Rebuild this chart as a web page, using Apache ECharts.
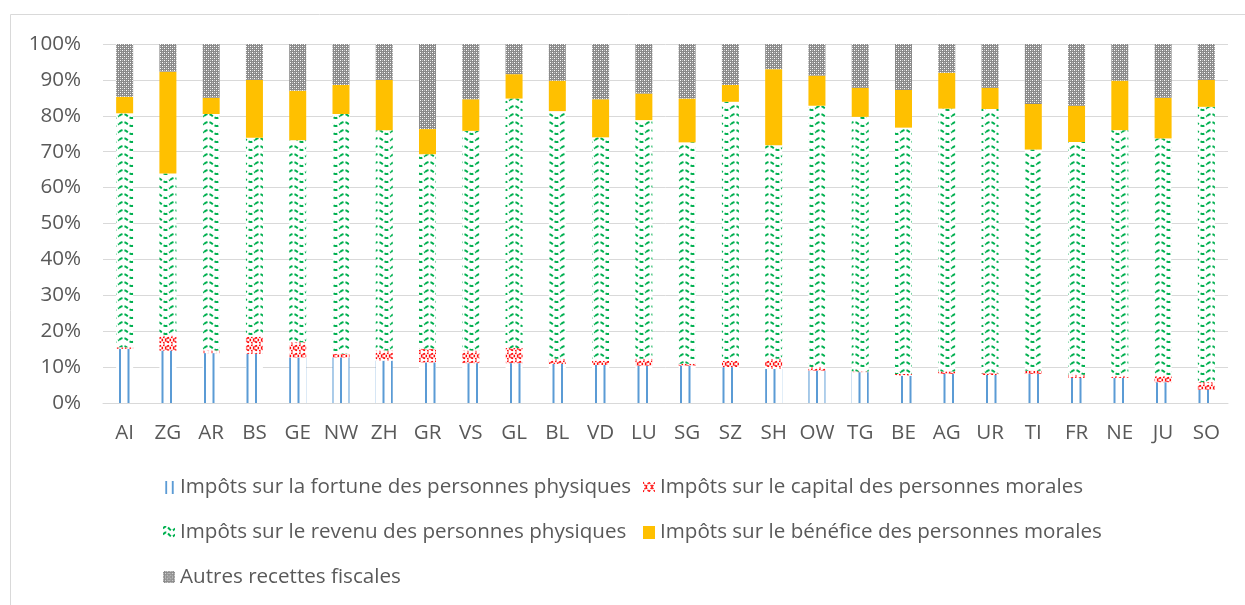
<!DOCTYPE html>
<html>
<head>
<meta charset="utf-8">
<script src="https://cdn.jsdelivr.net/npm/echarts@6/dist/echarts.min.js"></script>
<style>
  html, body { margin: 0; padding: 0; background: #fff; }
  #chart { width: 1245px; height: 605px; }
</style>
</head>
<body>
<div id="chart"></div>
<script>
// cantons
const categories = ['AI', 'ZG', 'AR', 'BS', 'GE', 'NW', 'ZH', 'GR', 'VS', 'GL', 'BL', 'VD', 'LU',
    'SG', 'SZ', 'SH', 'OW', 'TG', 'BE', 'AG', 'UR', 'TI', 'FR', 'NE', 'JU', 'SO'];

// parts en %
const fortune = [15.1, 14.6, 13.9, 13.7, 12.7, 12.7, 11.8, 11.3, 11.1, 11.1, 10.9, 10.6, 10.4,
    10.4, 10.0, 9.5, 9.0, 8.6, 7.6, 8.1, 7.8, 8.1, 7.0, 7.0, 5.8, 3.7];
const capital = [0.4, 4.2, 0.7, 4.8, 4.2, 1.0, 2.8, 3.8, 3.5, 4.2, 1.4, 1.2, 1.9,
    0.5, 1.8, 2.8, 1.0, 0.2, 0.5, 0.7, 0.5, 0.9, 0.9, 0.6, 1.8, 2.1];
const revenu = [65.2, 45.1, 65.9, 55.4, 56.3, 66.8, 61.4, 54.2, 61.2, 69.5, 69.0, 62.2, 66.5,
    61.7, 72.1, 59.5, 72.8, 70.9, 68.6, 73.2, 73.6, 61.6, 64.8, 68.4, 66.1, 76.7];
const benefice = [4.6, 28.4, 4.5, 16.1, 13.8, 8.1, 14.0, 7.0, 8.8, 6.8, 8.5, 10.6, 7.4,
    12.2, 4.7, 21.2, 8.4, 8.1, 10.5, 10.0, 5.9, 12.7, 10.1, 13.8, 11.3, 7.5];
const autres = [14.7, 7.7, 15.0, 10.0, 13.0, 11.4, 10.0, 23.7, 15.4, 8.4, 10.2, 15.4, 13.8,
    15.2, 11.4, 7.0, 8.8, 12.2, 12.8, 8.0, 12.2, 16.7, 17.2, 10.2, 15.0, 10.0];

const names = [
    'Impôts sur la fortune des personnes physiques',
    'Impôts sur le capital des personnes morales',
    'Impôts sur le revenu des personnes physiques',
    'Impôts sur le bénéfice des personnes morales',
    'Autres recettes fiscales'
];

const textColor = '#595959';
const font = '"Open Sans", "Liberation Sans", sans-serif';
const fontSize = 20.6;

// petites tuiles de motif (comme les trames Excel)
function tile(w, h, draw) {
    const c = document.createElement('canvas');
    c.width = w;
    c.height = h;
    const ctx = c.getContext('2d');
    ctx.fillStyle = '#fff';
    ctx.fillRect(0, 0, w, h);
    draw(ctx, w, h);
    return c;
}

function drawLines(ctx, w, h) {
    ctx.fillStyle = '#5B9BD5';
    ctx.fillRect(0, 0, 2, h);
    ctx.fillRect(8.5, 0, 2, h);
}

function drawZigzag(ctx, w, h) {
    ctx.strokeStyle = '#FF0000';
    ctx.lineWidth = 1.3;
    ctx.setLineDash([2, 1]);
    ctx.beginPath();
    ctx.moveTo(0, 1); ctx.lineTo(w / 2, h - 1); ctx.lineTo(w, 1);
    ctx.moveTo(0, h - 1); ctx.lineTo(w / 2, 1); ctx.lineTo(w, h - 1);
    ctx.stroke();
}

function drawWave(ctx, w, h) {
    ctx.strokeStyle = '#00B050';
    ctx.lineWidth = 2;
    ctx.setLineDash([4, 2]);
    ctx.beginPath();
    for (let x = 0; x <= w; x += 0.5) {
        const y = h / 2 - 2 * Math.sin(2 * Math.PI * x / w);
        if (x === 0) ctx.moveTo(x, y); else ctx.lineTo(x, y);
    }
    ctx.stroke();
}

function drawChecker(ctx, w, h) {
    ctx.fillStyle = '#8a8a8a';
    ctx.fillRect(0, 0, w, h);
    ctx.fillStyle = '#ffffff';
    ctx.fillRect(0, 0, 1, 1);
    ctx.fillRect(2, 2, 1, 1);
    ctx.fillStyle = '#c4c4c4';
    ctx.fillRect(2, 0, 1, 1);
    ctx.fillRect(0, 2, 1, 1);
}

const fillFortune = { image: tile(17, 4, drawLines), repeat: 'repeat' };
const fillCapital = { image: tile(8, 8, drawZigzag), repeat: 'repeat' };
const fillRevenu = { image: tile(17, 8, drawWave), repeat: 'repeat' };
const fillBenefice = '#FFC000';
const fillAutres = { image: tile(4, 4, drawChecker), repeat: 'repeat' };

// icônes de légende
function icon(w, h, draw) {
    return 'image://' + tile(w, h, draw).toDataURL();
}
const icons = [
    icon(12, 14, function(ctx) {
        ctx.fillStyle = '#5B9BD5';
        ctx.fillRect(2, 0, 2, 14);
        ctx.fillRect(9, 0, 2, 14);
    }),
    icon(12, 12, drawZigzag),
    icon(12, 12, function(ctx) {
        ctx.save();
        ctx.translate(0, -1);
        drawWave(ctx, 12, 7);
        ctx.translate(0, 6);
        drawWave(ctx, 12, 7);
        ctx.restore();
    }),
    icon(12, 13, function(ctx) {
        ctx.fillStyle = '#FFC000';
        ctx.fillRect(0, 0, 12, 13);
    }),
    icon(13, 13, function(ctx) {
        const p = ctx.createPattern(tile(4, 4, drawChecker), 'repeat');
        ctx.fillStyle = p;
        ctx.fillRect(0, 0, 13, 13);
    })
];

const legendPos = [
    { left: 163, top: 475 },
    { left: 643, top: 475 },
    { left: 163, top: 520 },
    { left: 643, top: 520 },
    { left: 163, top: 565 }
];

const chart = echarts.init(document.getElementById('chart'));

const seriesData = [fortune, capital, revenu, benefice, autres];
const fills = [fillFortune, fillCapital, fillRevenu, fillBenefice, fillAutres];

const option = {
    animation: false,
    textStyle: { fontFamily: font },
    graphic: [{
        type: 'rect',
        shape: { x: 10.5, y: 14.5, width: 1260, height: 620 },
        style: { fill: 'none', stroke: '#d9d9d9', lineWidth: 1 },
        silent: true
    }],
    grid: { left: 103, right: 17, top: 44, bottom: 202 },
    legend: names.map((n, i) => ({
        left: legendPos[i].left,
        top: legendPos[i].top,
        padding: 0,
        itemWidth: 12,
        itemHeight: 13,
        selectedMode: false,
        textStyle: { color: textColor, fontSize: fontSize, fontFamily: font, lineHeight: 24 },
        data: [{ name: n, icon: icons[i] }]
    })),
    xAxis: {
        type: 'category',
        data: categories,
        axisLine: { lineStyle: { color: '#d9d9d9', width: 1 } },
        axisTick: { show: false },
        axisLabel: { color: textColor, fontSize: fontSize, fontFamily: font, margin: 20, interval: 0 }
    },
    yAxis: {
        type: 'value',
        min: 0,
        max: 100,
        interval: 10,
        axisLine: { show: false },
        axisTick: { show: false },
        axisLabel: { color: textColor, fontSize: fontSize, fontFamily: font, margin: 22, formatter: '{value}%' },
        splitLine: { lineStyle: { color: '#d9d9d9', width: 1 } }
    },
    series: names.map((n, i) => ({
        name: n,
        type: 'bar',
        stack: 'total',
        barWidth: 17,
        data: seriesData[i],
        itemStyle: { color: fills[i] },
        emphasis: { disabled: true }
    }))
};

chart.setOption(option);
</script>
</body>
</html>
